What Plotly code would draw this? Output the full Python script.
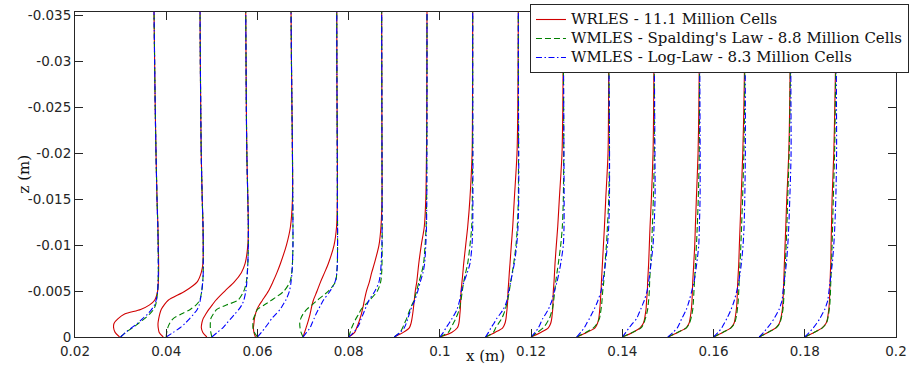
import plotly.graph_objects as go

# ---------------- data ----------------
X_STATIONS = [0.03, 0.04, 0.05, 0.06, 0.07, 0.08, 0.09, 0.10,
              0.11, 0.12, 0.13, 0.14, 0.15, 0.16, 0.17, 0.18]
# wall-normal levels (mm); plotted as z = -level
Z_MM = [0, 0.5, 1, 1.5, 2, 2.5, 3, 3.5, 4, 5, 6, 7, 8, 10, 12, 15, 20, 25, 30, 35.4]

# streamwise velocity (m/s) at each level, one row per station
U_WRLES = [
    [-1, -5.5, -7, -6.5, -2.5, 4, 20, 29, 34, 37, 37.7, 38, 38, 37.7, 37.3, 36.4, 35.4, 34.6, 34, 33.4],
    [-3, -7, -8, -8.2, -7.5, -6.5, -5, -2, 2, 19, 31, 35, 36.7, 37, 36.8, 36, 35, 34.5, 34.1, 33.8],
    [-5, -9, -10.5, -10, -8.7, -6, -3, 0.5, 4, 13, 22.5, 29.5, 33.3, 36, 36.5, 36, 35, 34.5, 34.2, 33.9],
    [-2, -3.5, -4, -3.5, -3, -2, -0.5, 2, 5, 11, 15.5, 19.5, 23, 29, 33, 35, 35, 34.5, 34, 33.6],
    [0, 1.5, 3, 4.5, 5.8, 7, 8, 9, 10.3, 14, 17.5, 21.5, 25.3, 31, 33.5, 34.3, 34.3, 34, 33.8, 33.7],
    [0, 6, 8, 9.8, 11.3, 12.7, 13.8, 14.8, 15.7, 17.8, 20.7, 23, 25.7, 30.3, 32.3, 33.3, 33.3, 33.2, 33.1, 33.0],
    [0, 9, 15, 16.8, 17.7, 18.4, 19, 19.5, 20, 21, 22.5, 23.5, 24.5, 27, 30, 31.5, 32.2, 32.5, 32.6, 32.7],
    [0, 11.8, 17.5, 19, 19.6, 20, 20.4, 20.6, 20.8, 21.2, 22.1, 23, 23.8, 25.8, 27.8, 30, 32.2, 32.6, 32.7, 32.8],
    [0, 9.5, 17.2, 19.5, 20.5, 21, 21.5, 21.9, 22.2, 22.5, 23.2, 23.8, 24.5, 25.8, 27.2, 28.8, 31.5, 32.3, 32.6, 32.8],
    [0, 9.6, 17.2, 19.6, 20.6, 21.1, 21.6, 21.8, 21.9, 22.2, 22.9, 23.4, 23.9, 25.2, 26.6, 28.2, 30.9, 31.7, 32, 32.2],
    [0, 10, 18.3, 20.8, 22, 22.6, 23, 23.4, 23.7, 24.3, 24.7, 25.2, 25.7, 26.7, 27.7, 29, 31.3, 31.8, 32, 32],
    [0, 10.3, 17.7, 21, 22.3, 23, 23.7, 24, 24.3, 25, 25.3, 25.8, 26.3, 27, 27.7, 29, 30.7, 31.3, 31.6, 31.8],
    [0, 9.8, 18.1, 21.1, 22.1, 22.8, 23.4, 23.8, 24.1, 24.4, 24.8, 25.3, 25.8, 26.8, 27.4, 28.4, 30.1, 30.9, 31.3, 31.6],
    [0, 9.2, 17.2, 20.5, 21.5, 22.2, 22.8, 23.2, 23.5, 23.8, 24.2, 24.7, 25.2, 25.8, 26.5, 27.5, 29.2, 30.3, 31, 31.5],
    [0, 8.6, 16.6, 20.2, 21.6, 22.5, 23.2, 23.6, 23.9, 24.2, 24.6, 24.9, 25.2, 25.9, 26.6, 27.6, 29.6, 30.5, 31, 31.4],
    [0, 9.3, 17.3, 21.3, 22.7, 23.4, 24, 24.4, 24.7, 25, 25.3, 25.6, 26, 26.3, 26.7, 27.3, 29, 30, 30.8, 31.3],
]

U_SPALDING = [
    [0, 5, 12, 18, 24, 29, 33, 35, 36, 37, 37.5, 37.7, 37.7, 37.5, 37.2, 36.4, 35.4, 34.6, 34, 33.4],
    [0, 0.5, 1.5, 3.5, 7, 15, 24, 30, 33.5, 35.5, 36.5, 37, 37, 37, 36.8, 36, 35, 34.5, 34.1, 33.8],
    [0, -1, -1.5, -1.5, -1, 1.5, 5, 15, 26, 32, 34.5, 35.5, 36, 36.5, 36.5, 36, 35, 34.5, 34.2, 33.9],
    [0, -3, -4.5, -4.5, -4, -2, 0, 7, 14, 26.5, 32.5, 34.3, 35, 35.5, 35.5, 35.3, 35, 34.5, 34, 33.6],
    [0, -2, -3, -3.3, -2.3, 0, 3.7, 9, 14.3, 25.3, 32.5, 33.7, 34.3, 34.5, 34.5, 34.3, 34.2, 34, 33.8, 33.7],
    [0, 1.5, 3, 5, 7.3, 10, 12.5, 16.5, 21, 28.7, 32, 33, 33.3, 33.5, 33.5, 33.4, 33.3, 33.2, 33.1, 33.0],
    [0, 5.7, 8.3, 10.3, 12.3, 14, 15.7, 17.7, 19.7, 22.3, 24.7, 27.3, 29.3, 30.8, 31.8, 32.3, 32.5, 32.6, 32.7, 32.7],
    [0, 8.4, 11.1, 13.5, 15.8, 17.8, 19.4, 20.3, 21.1, 22.4, 23.8, 25.8, 27.8, 30.1, 31.8, 32.4, 32.7, 32.8, 32.8, 32.8],
    [0, 7.8, 10.2, 13.2, 16.2, 18.2, 19.8, 21, 22.2, 23.8, 25.2, 26.8, 28.2, 30.5, 31.8, 32.8, 33, 32.9, 32.8, 32.8],
    [0, 6.2, 12.2, 15.5, 18.2, 19.8, 21.2, 22, 22.6, 23.6, 24.6, 25.9, 27.2, 29.6, 31.2, 32.2, 32.6, 32.5, 32.3, 32.2],
    [0, 9, 16.7, 20.5, 22.7, 23.6, 24.3, 24.9, 25.3, 26, 27, 27.7, 28.3, 29.7, 30.7, 32, 32.7, 32.5, 32.2, 32],
    [0, 10, 18.7, 21.5, 23, 24.3, 25.3, 25.8, 26.3, 27, 27.3, 27.8, 28.3, 29.3, 30, 31, 32, 32, 31.9, 31.8],
    [0, 9.5, 18.5, 21.5, 23, 24, 24.8, 25.2, 25.5, 26, 26.5, 27, 27.5, 28.5, 29.3, 30.3, 31.3, 31.5, 31.6, 31.6],
    [0, 9, 17.5, 21, 22.3, 23.2, 23.8, 24.3, 24.7, 25.2, 25.6, 26, 26.5, 27.3, 28, 29, 30.3, 31, 31.3, 31.5],
    [0, 8.8, 17, 20.6, 22, 23, 23.8, 24.2, 24.5, 25, 25.4, 25.8, 26.2, 27, 27.7, 28.5, 30, 30.8, 31.2, 31.4],
    [0, 9.3, 17.6, 21.6, 23, 23.8, 24.5, 25, 25.3, 25.7, 26, 26.4, 26.8, 27.3, 27.8, 28.5, 29.8, 30.5, 31, 31.3],
]

U_LOGLAW = [
    [0, 5, 11, 17, 22, 27, 31, 34, 35.5, 37, 37.5, 37.7, 37.7, 37.5, 37.2, 36.4, 35.4, 34.6, 34, 33.4],
    [0, 7, 13.8, 19, 23.5, 27.5, 31, 33, 34, 35.5, 36.5, 37, 37, 37, 36.8, 36, 35, 34.5, 34.1, 33.8],
    [0, 5.5, 11, 15, 19, 23, 27, 30, 32, 34, 35, 35.5, 36, 36.5, 36.5, 36, 35, 34.5, 34.2, 33.9],
    [0, 4, 7.6, 11, 14.3, 18.5, 22.6, 25.5, 28.3, 32, 33.6, 34.5, 35, 35.5, 35.5, 35.3, 35, 34.5, 34, 33.6],
    [0, 3.5, 7, 9, 11, 13, 15.3, 17.8, 20.3, 27, 32, 33.7, 34.3, 34.5, 34.5, 34.3, 34.2, 34, 33.8, 33.7],
    [0, 5, 8.5, 11, 12.5, 14.5, 16.3, 18.3, 20.3, 26.3, 30.3, 31.8, 32.5, 33.2, 33.4, 33.4, 33.3, 33.2, 33.1, 33.0],
    [0, 6, 10, 12, 13.5, 15, 16.5, 18.5, 20.5, 23.5, 26, 28.7, 30.3, 31.5, 32.2, 32.5, 32.6, 32.7, 32.7, 32.7],
    [0, 3.5, 6.1, 9.2, 12.1, 14.8, 17.1, 18.6, 19.8, 21.4, 24.1, 27.4, 30.1, 32.1, 32.8, 33, 33, 32.9, 32.8, 32.8],
    [0, 3, 5.5, 8.5, 11.2, 14.6, 17.8, 20, 21.5, 23.2, 25.2, 27, 28.8, 31.2, 32.5, 33.2, 33.2, 33, 32.9, 32.8],
    [0, 4, 7.2, 9.5, 11.6, 14.5, 17.2, 19.2, 20.9, 23.2, 25.9, 27.9, 29.6, 32.2, 32.9, 33, 32.8, 32.6, 32.4, 32.2],
    [0, 4, 7.5, 10, 12.7, 15, 17.3, 19.5, 21.3, 24.3, 26, 27.5, 28.7, 30.7, 32, 32.7, 32.8, 32.5, 32.2, 32],
    [0, 3.5, 6.7, 10.5, 14.3, 16.3, 18.3, 20.2, 22, 24.7, 26.3, 27.5, 28.7, 30.7, 31.7, 32.7, 32.6, 32.3, 32, 31.8],
    [0, 5, 9.4, 11.8, 13.8, 16.2, 18.4, 20, 21.4, 23.8, 26.1, 27.5, 28.8, 30.8, 31.4, 32.1, 32.2, 32, 31.8, 31.6],
    [0, 4.5, 8.2, 10.8, 13.2, 15.5, 17.5, 19.3, 20.8, 23.2, 25.2, 26.6, 27.8, 29.5, 30.5, 31.2, 31.8, 31.8, 31.6, 31.5],
    [0, 4.5, 8.2, 11.8, 14.9, 17.5, 19.9, 21.5, 22.9, 23.9, 24.9, 26.1, 27.2, 28.6, 29.6, 30.6, 31.9, 31.8, 31.6, 31.4],
    [0, 4.6, 8.5, 12, 15, 17.5, 20, 21.6, 23, 24.2, 25.3, 26.4, 27.5, 29, 30, 31, 31.8, 31.7, 31.5, 31.3],
]

SERIES_NAMES = ["WRLES - 11.1 Million Cells",
                "WMLES - Spalding's Law - 8.8 Million Cells",
                "WMLES - Log-Law - 8.3 Million Cells"]

X_TICKS = [0.02, 0.04, 0.06, 0.08, 0.10, 0.12, 0.14, 0.16, 0.18, 0.20]
X_TICK_TEXT = ["0.02", "0.04", "0.06", "0.08", "0.1", "0.12", "0.14", "0.16", "0.18", "0.2"]
Y_TICKS = [0, -0.005, -0.01, -0.015, -0.02, -0.025, -0.03, -0.035]
Y_TICK_TEXT = ["0", "-0.005", "-0.01", "-0.015", "-0.02", "-0.025", "-0.03", "-0.035"]

U_SCALE = 2.193e-4  # x-offset (m) per m/s of velocity in the profile plot

# ---------------- figure ----------------
def profiles(U):
    xs, zs = [], []
    for x0, prof in zip(X_STATIONS, U):
        xs += [x0 + u * U_SCALE for u in prof] + [None]
        zs += [-z / 1000.0 for z in Z_MM] + [None]
    return xs, zs

styles = [
    dict(color="#d00000", width=1.1, dash="solid"),
    dict(color="#008000", width=1.1, dash="6px,3px"),
    dict(color="#0000ff", width=1.1, dash="6px,2.5px,1.5px,2.5px"),
]

fig = go.Figure()
for name, U, st in zip(SERIES_NAMES, [U_WRLES, U_SPALDING, U_LOGLAW], styles):
    xs, zs = profiles(U)
    fig.add_trace(go.Scatter(x=xs, y=zs, mode="lines",
                             name='<span style="font-size:15px">' + name + '</span>',
                             line=dict(color=st["color"], width=st["width"], dash=st["dash"],
                                       shape="spline", smoothing=0.8),
                             connectgaps=False))

axcol = "#262626"
tickfont = dict(family="DejaVu Sans", size=13.5, color=axcol)
fig.update_layout(
    width=910, height=371,
    margin=dict(l=75, r=14, t=12, b=34, autoexpand=False),
    paper_bgcolor="white", plot_bgcolor="white",
    showlegend=True,
    legend=dict(x=1.0158, xanchor="right", y=1.0246, yanchor="top",
                bgcolor="white", bordercolor=axcol, borderwidth=1,
                font=dict(family="DejaVu Serif", size=11, color="#111111"),
                itemwidth=30, tracegroupgap=0),
    xaxis=dict(range=[0.02, 0.2], tickvals=X_TICKS, ticktext=X_TICK_TEXT,
               ticks="inside", ticklen=8, tickcolor=axcol, tickwidth=1,
               showline=True, linecolor=axcol, linewidth=1, mirror="ticks",
               showgrid=False, zeroline=False, tickfont=tickfont,
               ticklabelstandoff=2),
    yaxis=dict(range=[0, -0.03536], tickvals=Y_TICKS, ticktext=Y_TICK_TEXT,
               ticks="inside", ticklen=8, tickcolor=axcol, tickwidth=1,
               showline=True, linecolor=axcol, linewidth=1, mirror="ticks",
               showgrid=False, zeroline=False, tickfont=tickfont),
    annotations=[
        dict(text="x (m)", xref="paper", yref="paper", x=0.5, y=0, yshift=-19,
             xanchor="center", yanchor="middle", showarrow=False,
             font=dict(family="DejaVu Serif", size=15, color="#111111")),
        dict(text="z (m)", xref="paper", yref="paper", x=0, xshift=-52, y=0.5,
             xanchor="center", yanchor="middle", textangle=-90, showarrow=False,
             font=dict(family="DejaVu Serif", size=15, color="#111111")),
    ],
)

fig.write_html("out.html")
